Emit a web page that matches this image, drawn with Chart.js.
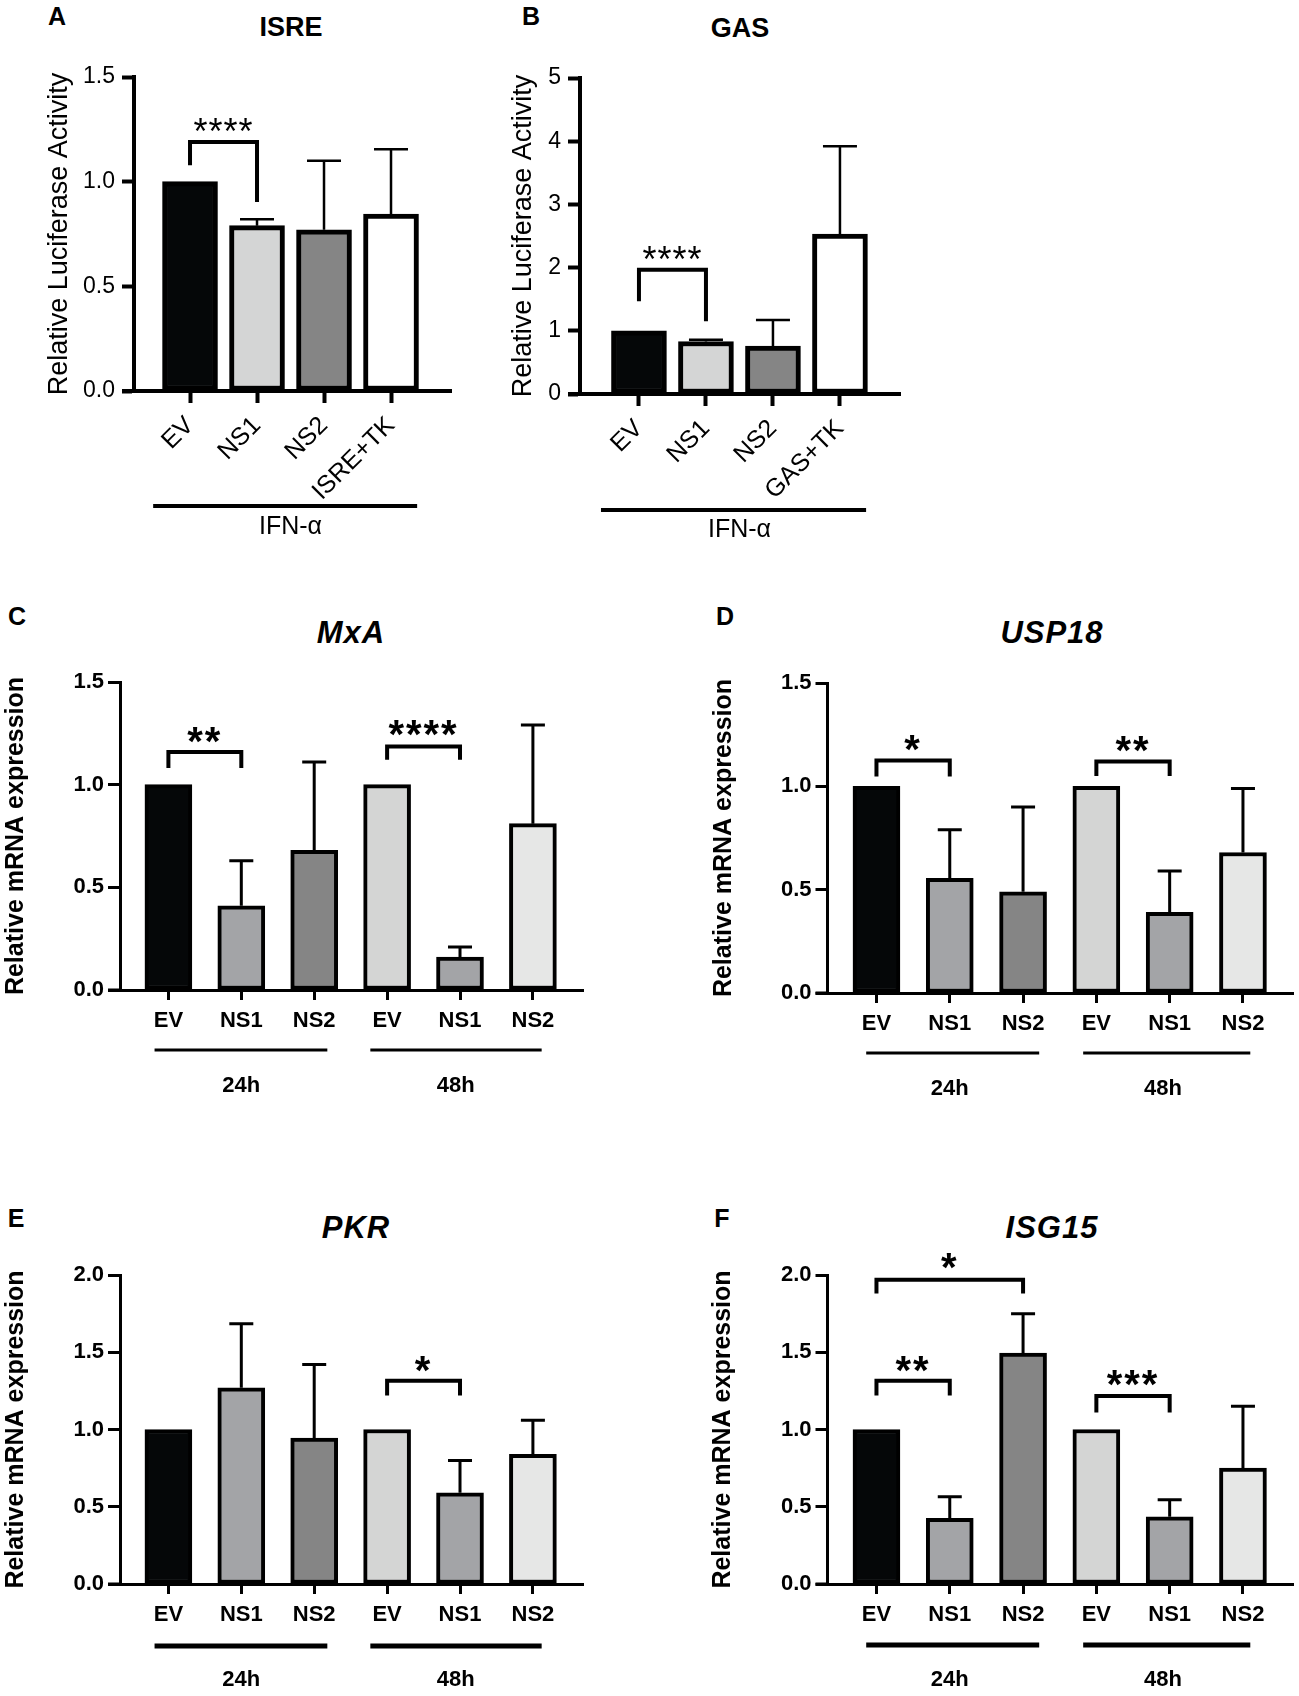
<!DOCTYPE html>
<html>
<head>
<meta charset="utf-8">
<script src="https://cdn.jsdelivr.net/npm/chart.js@4.4.1/dist/chart.umd.min.js"></script>
<style>
  body { margin: 0; background: #fff; width: 1299px; height: 1696px; position: relative; overflow: hidden;
         font-family: "Liberation Sans", Arial, Helvetica, sans-serif; }
  canvas { position: absolute; }
  .lbl { position: absolute; transform: translate(-50%, -50%); line-height: 1; white-space: nowrap; color: #000; font-weight: bold; }
  .letter { font-size: 25px; }
  .title { font-size: 27px; }
  .gene { font-size: 31px; font-style: italic; letter-spacing: 1px; }
</style>
</head>
<body>
<div class="lbl letter" style="left:57px;top:16px">A</div>
<div class="lbl title" style="left:291px;top:27px">ISRE</div>
<div class="lbl letter" style="left:531px;top:16px">B</div>
<div class="lbl title" style="left:740px;top:28px">GAS</div>
<div class="lbl letter" style="left:17px;top:616px">C</div>
<div class="lbl gene" style="left:351px;top:632px">MxA</div>
<div class="lbl letter" style="left:725px;top:616px">D</div>
<div class="lbl gene" style="left:1052px;top:632px">USP18</div>
<div class="lbl letter" style="left:16px;top:1218px">E</div>
<div class="lbl gene" style="left:356px;top:1227px">PKR</div>
<div class="lbl letter" style="left:722px;top:1218px">F</div>
<div class="lbl gene" style="left:1052px;top:1227px">ISG15</div>

<canvas id="isre"></canvas>
<canvas id="gas"></canvas>
<canvas id="mxa"></canvas>
<canvas id="usp18"></canvas>
<canvas id="pkr"></canvas>
<canvas id="isg15"></canvas>

<script>
Chart.defaults.font.family = '"Liberation Sans", Arial, Helvetica, sans-serif';
Chart.defaults.color = '#000';

// ---- data ----
const isreCats = ['EV', 'NS1', 'NS2', 'ISRE+TK'];
const isreMean = [1.00, 0.79, 0.77, 0.845];
const isreSD   = [0, 0.03, 0.33, 0.31];

const gasCats = ['EV', 'NS1', 'NS2', 'GAS+TK'];
const gasMean = [1.00, 0.83, 0.76, 2.53];
const gasSD   = [0, 0.03, 0.41, 1.39];

const timeCats = ['EV', 'NS1', 'NS2', 'EV', 'NS1', 'NS2'];
const mxaMean   = [1.00, 0.41, 0.68, 1.00, 0.16, 0.81];
const mxaSD     = [0, 0.22, 0.43, 0, 0.05, 0.48];
const usp18Mean = [1.00, 0.555, 0.49, 1.00, 0.39, 0.68];
const usp18SD   = [0, 0.235, 0.41, 0, 0.20, 0.31];
const pkrMean   = [1.00, 1.27, 0.945, 1.00, 0.59, 0.84];
const pkrSD     = [0, 0.415, 0.475, 0, 0.21, 0.22];
const isg15Mean = [1.00, 0.425, 1.495, 1.00, 0.435, 0.75];
const isg15SD   = [0, 0.14, 0.255, 0, 0.11, 0.40];

const ticks15 = [0, 0.5, 1.0, 1.5];
const ticks20 = [0, 0.5, 1.0, 1.5, 2.0];
const ticks5  = [0, 1, 2, 3, 4, 5];

// significance brackets (bar a to bar b, heights in axis units)
const isreSig  = [{ a: 0, b: 1, top: 1.19, legA: 1.078, legB: 0.903, star: 1.277, text: '****' }];
const gasSig   = [{ a: 0, b: 1, top: 1.967, legA: 1.466, legB: 1.15, star: 2.26, text: '****' }];
const mxaSig   = [{ a: 0, b: 1, top: 1.159, legA: 1.081, legB: 1.081, star: 1.255, text: '**' },
                  { a: 3, b: 4, top: 1.186, legA: 1.121, legB: 1.121, star: 1.292, text: '****' }];
const usp18Sig = [{ a: 0, b: 1, top: 1.125, legA: 1.047, legB: 1.047, star: 1.225, text: '*' },
                  { a: 3, b: 4, top: 1.12, legA: 1.05, legB: 1.05, star: 1.22, text: '**' }];
const pkrSig   = [{ a: 3, b: 4, top: 1.315, legA: 1.22, legB: 1.22, star: 1.445, text: '*' }];
const isg15Sig = [{ a: 0, b: 2, top: 1.97, legA: 1.88, legB: 1.88, star: 2.11, text: '*' },
                  { a: 0, b: 1, top: 1.315, legA: 1.22, legB: 1.22, star: 1.445, text: '**' },
                  { a: 3, b: 4, top: 1.217, legA: 1.11, legB: 1.11, star: 1.35, text: '***' }];

// group underlines (in bar-index units)
const ifnGroupA = [{ from: -0.55, to: 3.39, at: 1.5, text: 'IFN-α' }];
const ifnGroupB = [{ from: -0.567, to: 3.39, at: 1.5, text: 'IFN-α' }];
const timeGroupsL = [{ from: -0.19, to: 2.18, at: 1.0, text: '24h' }, { from: 2.77, to: 5.12, at: 3.94, text: '48h' }];
const timeGroupsR = [{ from: -0.14, to: 2.22, at: 1.0, text: '24h' }, { from: 2.82, to: 5.10, at: 3.91, text: '48h' }];

const abFills   = ['#050708', '#d4d5d5', '#858585', '#ffffff'];
const timeFills = ['#050708', '#a3a4a7', '#858585', '#d4d5d4', '#a3a4a7', '#e6e7e6'];

const FONT = '"Liberation Sans", Arial, Helvetica, sans-serif';

function makeExtras(p) {
  return {
    id: 'extras',
    afterDatasetsDraw(chart) {
      const { ctx, scales: { x, y } } = chart;
      ctx.save();
      ctx.strokeStyle = '#000';
      ctx.fillStyle = '#000';
      // error bars, upper half only (GraphPad style)
      ctx.lineWidth = p.errW;
      p.sd.forEach((sd, i) => {
        if (!sd) return;
        const cx = x.getPixelForValue(i);
        const y0 = y.getPixelForValue(p.mean[i]);
        const y1 = y.getPixelForValue(p.mean[i] + sd);
        ctx.beginPath();
        ctx.moveTo(cx, y0);
        ctx.lineTo(cx, y1);
        ctx.moveTo(cx - p.capW / 2, y1);
        ctx.lineTo(cx + p.capW / 2, y1);
        ctx.stroke();
      });
      // brackets + stars
      ctx.lineWidth = p.brW;
      ctx.lineJoin = 'miter';
      ctx.lineCap = 'butt';
      p.sig.forEach(s => {
        const xa = x.getPixelForValue(s.a), xb = x.getPixelForValue(s.b);
        const yt = y.getPixelForValue(s.top);
        ctx.beginPath();
        ctx.moveTo(xa, y.getPixelForValue(s.legA));
        ctx.lineTo(xa, yt);
        ctx.lineTo(xb, yt);
        ctx.lineTo(xb, y.getPixelForValue(s.legB));
        ctx.stroke();
        ctx.font = p.starFont;
        ctx.letterSpacing = p.starGap;
        ctx.textAlign = 'center';
        ctx.textBaseline = 'alphabetic';
        ctx.fillText(s.text, (xa + xb) / 2, y.getPixelForValue(s.star) + p.starSize * 0.57);
      });
      ctx.restore();
    },
    afterDraw(chart) {
      const { ctx, chartArea: a, scales: { x } } = chart;
      ctx.save();
      ctx.fillStyle = '#000';
      // x axis starts where the y ticks end
      ctx.fillRect(a.left - p.yTickLen, a.bottom - p.axisW / 2, p.yTickLen, p.axisW);
      // group lines and labels
      ctx.font = p.groupFont;
      ctx.textAlign = 'center';
      ctx.textBaseline = 'middle';
      p.groups.forEach(g => {
        const x0 = x.getPixelForValue(g.from), x1 = x.getPixelForValue(g.to);
        ctx.fillRect(x0, a.bottom + p.gLineY - p.gLineW / 2, x1 - x0, p.gLineW);
        ctx.fillText(g.text, x.getPixelForValue(g.at), a.bottom + p.gTextY);
      });
      ctx.restore();
    }
  };
}

function drawPanel(p) {
  const cv = document.getElementById(p.id);
  cv.width = p.box.w;
  cv.height = p.box.h;
  cv.style.left = p.box.x + 'px';
  cv.style.top = p.box.y + 'px';
  const right = p.area.x + (p.xMax - p.xMin) * p.step;
  const yW = p.area.x - p.box.x;
  const xH = p.box.y + p.box.h - p.area.bottom;

  new Chart(cv, {
    type: 'bar',
    data: {
      datasets: [{
        data: p.mean.map((v, i) => ({ x: i, y: v })),
        backgroundColor: p.fills,
        borderColor: '#000',
        borderWidth: p.bw,
        borderSkipped: false,
        barThickness: p.barW
      }]
    },
    options: {
      responsive: false,
      animation: false,
      events: [],
      devicePixelRatio: 1,
      layout: { padding: { top: p.area.y - p.box.y, right: p.box.x + p.box.w - right, left: 0, bottom: 0 } },
      plugins: { legend: { display: false }, tooltip: { enabled: false } },
      scales: {
        x: {
          type: 'linear',
          offset: false,
          min: p.xMin,
          max: p.xMax,
          afterBuildTicks: s => { s.ticks = p.cats.map((c, i) => ({ value: i })); },
          afterFit: s => { s.height = xH; s.paddingLeft = 0; s.paddingRight = 0; },
          border: { display: true, color: '#000', width: p.axisW },
          grid: { display: true, offset: false, drawOnChartArea: false, drawTicks: true, tickLength: p.xTickLen, tickWidth: p.axisW, tickColor: '#000' },
          ticks: {
            autoSkip: false,
            padding: p.xTickPad,
            minRotation: p.rot,
            maxRotation: p.rot,
            font: p.xFont,
            color: '#000',
            callback: v => p.cats[v]
          }
        },
        y: {
          min: 0,
          max: p.yTicks[p.yTicks.length - 1],
          afterBuildTicks: s => { s.ticks = p.yTicks.map(v => ({ value: v })); },
          afterFit: s => { s.width = yW; s.paddingTop = 0; s.paddingBottom = 0; },
          border: { display: true, color: '#000', width: p.axisW },
          grid: { display: true, drawOnChartArea: false, drawTicks: true, tickLength: p.yTickLen, tickWidth: p.axisW, tickColor: '#000' },
          ticks: { padding: p.yTickPad, font: p.yFont, color: '#000', callback: v => p.yFmt(v) },
          title: { display: true, text: p.yTitle, font: p.yTitleFont, color: '#000', padding: { top: p.yTitlePad, bottom: 0 } }
        }
      }
    },
    plugins: [makeExtras(p)]
  });
}

const lucStyle = {
  step: 67, xMax: 3.9, barW: 55, bw: 5, axisW: 4,
  yTickLen: 12, yTickPad: 7, xTickLen: 12, xTickPad: 8, rot: 45,
  xFont: { size: 25 }, yFont: { size: 23 }, yTitleFont: { size: 27 },
  yTitle: 'Relative Luciferase Activity',
  errW: 2.5, capW: 34, brW: 4,
  starFont: '36px ' + FONT, starSize: 36, starGap: '1px',
  groupFont: '25px ' + FONT, gLineW: 4, fills: abFills
};

const qpcrStyle = {
  xMin: -0.664, xMax: 5.69, barW: 47, bw: 4, axisW: 3,
  yTickLen: 12, yTickPad: 4, xTickLen: 10, xTickPad: 8, rot: 0,
  xFont: { size: 22, weight: 'bold' }, yFont: { size: 22, weight: 'bold' }, yTitleFont: { size: 25, weight: 'bold' },
  yTitle: 'Relative mRNA expression',
  errW: 3, capW: 24, brW: 4,
  starFont: 'bold 40px ' + FONT, starSize: 40, starGap: '2px',
  groupFont: 'bold 22px ' + FONT, gTextY: 96, fills: timeFills, cats: timeCats,
  yFmt: v => v.toFixed(1)
};

drawPanel(Object.assign({}, lucStyle, {
  id: 'isre', xMin: -0.836, box: { x: 40, y: 40, w: 420, h: 530 }, area: { x: 134, y: 77, bottom: 391 },
  cats: isreCats, mean: isreMean, sd: isreSD, yTicks: ticks15, yFmt: v => v.toFixed(1), yTitlePad: 3.8,
  sig: isreSig, groups: ifnGroupA, gLineY: 115, gTextY: 136
}));

drawPanel(Object.assign({}, lucStyle, {
  id: 'gas', xMin: -0.88, box: { x: 500, y: 40, w: 410, h: 530 }, area: { x: 580, y: 78, bottom: 394 },
  cats: gasCats, mean: gasMean, sd: gasSD, yTicks: ticks5, yFmt: v => String(v), yTitlePad: 7.8,
  sig: gasSig, groups: ifnGroupB, gLineY: 116, gTextY: 136
}));

drawPanel(Object.assign({}, qpcrStyle, {
  id: 'mxa', step: 72.9, box: { x: 0, y: 650, w: 600, h: 465 }, area: { x: 120, y: 682, bottom: 990 },
  mean: mxaMean, sd: mxaSD, yTicks: ticks15, yTitlePad: 1,
  sig: mxaSig, groups: timeGroupsL, gLineY: 60, gLineW: 3
}));

drawPanel(Object.assign({}, qpcrStyle, {
  id: 'usp18', step: 73.3, xMin: -0.668, box: { x: 700, y: 650, w: 599, h: 465 }, area: { x: 827.5, y: 683, bottom: 993 },
  mean: usp18Mean, sd: usp18SD, yTicks: ticks15, yTitlePad: 9,
  sig: usp18Sig, groups: timeGroupsR, gLineY: 60, gLineW: 3
}));

drawPanel(Object.assign({}, qpcrStyle, {
  id: 'pkr', step: 72.9, box: { x: 0, y: 1240, w: 600, h: 456 }, area: { x: 120, y: 1275, bottom: 1584 },
  mean: pkrMean, sd: pkrSD, yTicks: ticks20, yTitlePad: 1,
  sig: pkrSig, groups: timeGroupsL, gLineY: 62, gLineW: 5
}));

drawPanel(Object.assign({}, qpcrStyle, {
  id: 'isg15', step: 73.3, xMin: -0.668, box: { x: 700, y: 1240, w: 599, h: 456 }, area: { x: 827.5, y: 1275, bottom: 1584 },
  mean: isg15Mean, sd: isg15SD, yTicks: ticks20, yTitlePad: 8,
  sig: isg15Sig, groups: timeGroupsR, gLineY: 61, gLineW: 5
}));
</script>
</body>
</html>
